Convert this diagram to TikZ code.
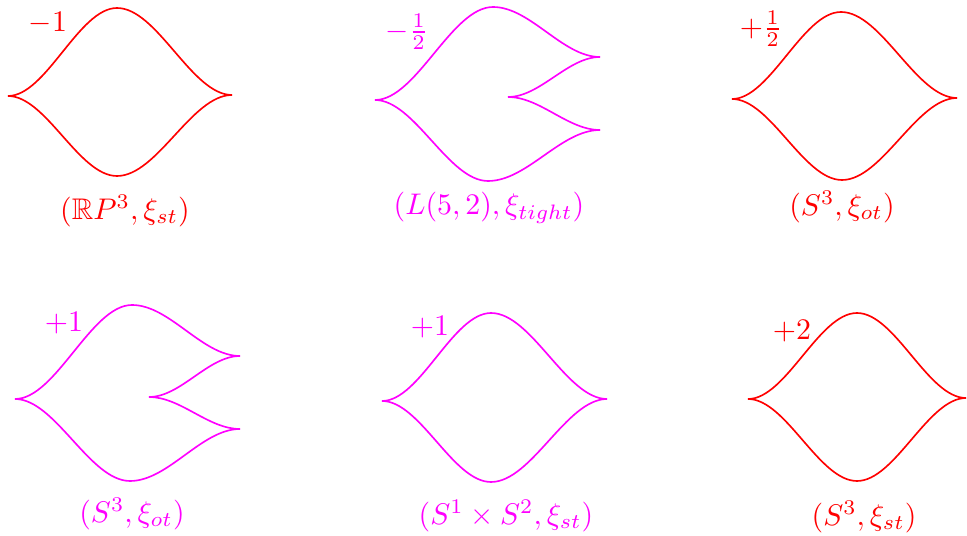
\documentclass[tikz,border=0pt]{standalone}
\usepackage{amsmath,amssymb}
\definecolor{cred}{RGB}{255,0,0}
\definecolor{cmag}{RGB}{255,0,255}
\newcommand\sgm[5]{\draw[#1] (#2,#3) .. controls ({#2+0.35*(#4-#2)},#3) and ({#4-0.35*(#4-#2)},#5) .. (#4,#5);}
\tikzset{
  rd/.style={draw=cred, line width=0.55pt},
  mg/.style={draw=cmag, line width=0.55pt},
  rtxt/.style={text=cred, inner sep=0pt},
  mtxt/.style={text=cmag, inner sep=0pt}
}
\begin{document}
\begin{tikzpicture}[x=0.335pt,y=-0.335pt]
\useasboundingbox (0,0) rectangle (967,536);
% diagram 1
\sgm{rd}{8}{96}{117}{8}
\sgm{rd}{117}{8}{232}{95}
\sgm{rd}{8}{96}{117}{176}
\sgm{rd}{117}{176}{232}{95}
\node[rtxt] (l1) at (48,23) {$-1$};
\node[rtxt] (c1) at (125,211) {$(\mathbb{R}P^3,\xi_{st})$};
% diagram 2
\sgm{mg}{375}{100}{493}{7}
\sgm{mg}{493}{7}{600}{57}
\sgm{mg}{508}{97}{600}{57}
\sgm{mg}{508}{97}{600}{130}
\sgm{mg}{375}{100}{488}{181}
\sgm{mg}{488}{181}{600}{130}
\node[mtxt] (l2) at (407,32) {$-\frac{1}{2}$};
\node[mtxt] (c2) at (489,208) {$(L(5,2),\xi_{tight})$};
% diagram 3
\sgm{rd}{732}{99}{841}{12}
\sgm{rd}{841}{12}{957}{98}
\sgm{rd}{732}{99}{842}{180}
\sgm{rd}{842}{180}{957}{98}
\node[rtxt] (l3) at (761,29) {$+\frac{1}{2}$};
\node[rtxt] (c3) at (842,207) {$(S^3,\xi_{ot})$};
% diagram 4
\sgm{mg}{15}{399}{132}{305}
\sgm{mg}{132}{305}{240}{356}
\sgm{mg}{149}{397}{240}{356}
\sgm{mg}{149}{397}{240}{429}
\sgm{mg}{15}{399}{130}{481}
\sgm{mg}{130}{481}{240}{429}
\node[mtxt] (l4) at (64,323) {$+1$};
\node[mtxt] (c4) at (132,514) {$(S^3,\xi_{ot})$};
% diagram 5
\sgm{mg}{382}{401}{491}{313}
\sgm{mg}{491}{313}{607}{399}
\sgm{mg}{382}{401}{491}{482}
\sgm{mg}{491}{482}{607}{399}
\node[mtxt] (l5) at (430,327) {$+1$};
\node[mtxt] (c5) at (506,516) {$(S^1\times S^2,\xi_{st})$};
% diagram 6
\sgm{rd}{748}{399}{857}{313}
\sgm{rd}{857}{313}{966}{398}
\sgm{rd}{748}{399}{857}{481}
\sgm{rd}{857}{481}{966}{398}
\node[rtxt] (l6) at (792,331) {$+2$};
\node[rtxt] (c6) at (864,517) {$(S^3,\xi_{st})$};
\end{tikzpicture}
\end{document}
